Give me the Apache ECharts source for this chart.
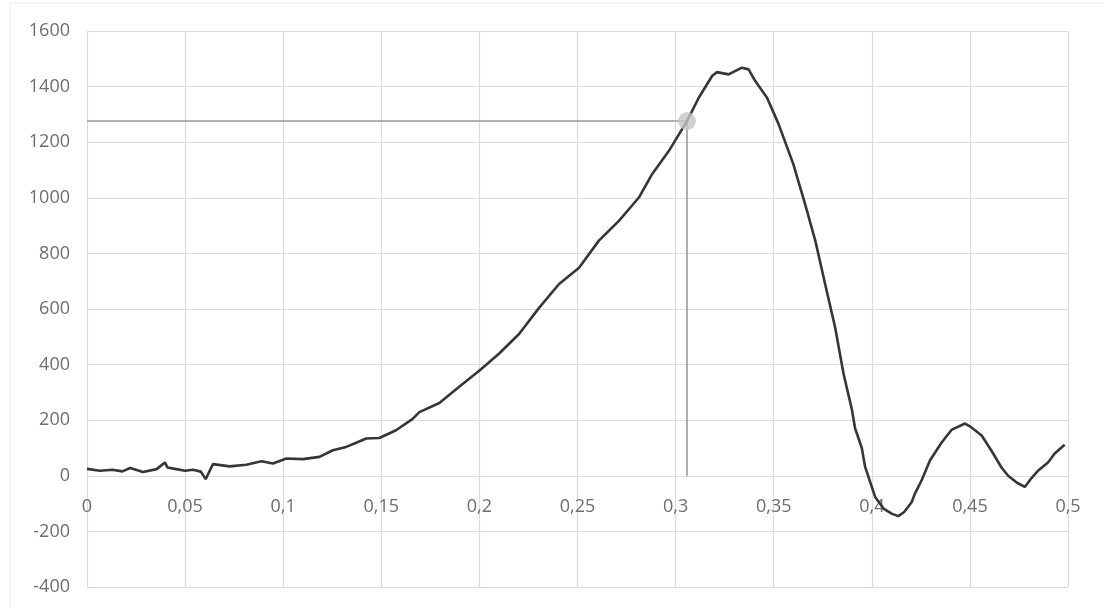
<!DOCTYPE html>
<html>
<head>
<meta charset="utf-8">
<script src="https://cdn.jsdelivr.net/npm/echarts@6/dist/echarts.min.js"></script>
<style>
  html, body { margin: 0; padding: 0; background: #ffffff; }
  #chart { width: 1104px; height: 608px; }
</style>
</head>
<body>
<div id="chart"></div>
<script>
// Curve: x (time) and y (force) values
const xValues = [0, 0.0066, 0.013, 0.018, 0.022, 0.0286, 0.0355, 0.0397, 0.041, 0.0456, 0.05, 0.054, 0.058, 0.0605, 0.062, 0.0642, 0.0727, 0.0812, 0.0889, 0.0948, 0.1016, 0.11, 0.1185, 0.1253, 0.1321, 0.1363, 0.1423, 0.149, 0.1575, 0.166, 0.1694, 0.1796, 0.1897, 0.1999, 0.2101, 0.2202, 0.2304, 0.2406, 0.2508, 0.2609, 0.2711, 0.2813, 0.288, 0.2966, 0.3058, 0.3118, 0.3186, 0.321, 0.327, 0.3338, 0.3372, 0.3406, 0.3466, 0.3525, 0.36, 0.366, 0.3712, 0.3762, 0.3813, 0.3856, 0.3898, 0.3915, 0.3949, 0.3966, 0.4017, 0.406, 0.4101, 0.4135, 0.4165, 0.4203, 0.422, 0.4254, 0.4297, 0.4356, 0.4406, 0.4475, 0.45, 0.456, 0.461, 0.4661, 0.4695, 0.474, 0.478, 0.4814, 0.485, 0.4898, 0.4932, 0.4983];
const yValues = [25, 18, 22, 16, 28, 14, 24, 48, 30, 24, 18, 22, 15, -12, 10, 42, 34, 40, 52, 44, 62, 60, 68, 92, 104, 116, 134, 136, 164, 205, 229, 262, 320, 378, 440, 510, 604, 690, 748, 846, 917, 1001, 1085, 1169, 1276, 1360, 1438, 1452, 1444, 1468, 1462, 1420, 1360, 1265, 1121, 977, 846, 690, 534, 367, 240, 170, 100, 32, -76, -118, -136, -145, -130, -95, -64, -16, 56, 120, 165, 188, 178, 145, 90, 30, 0, -25, -40, -8, 20, 48, 80, 112];

// Highlighted point with its guide lines to the axes
const markerX = 0.3058;
const markerY = 1276;

// Tick labels
const xTickLabels = ['0', '0,05', '0,1', '0,15', '0,2', '0,25', '0,3', '0,35', '0,4', '0,45', '0,5'];
const yTickLabels = ['-400', '-200', '0', '200', '400', '600', '800', '1000', '1200', '1400', '1600'];

const yMin = -400, yMax = 1600;

const curve = xValues.map((x, i) => [x, yValues[i]]);
const guide = [[0, markerY], [markerX, markerY], [markerX, 0]];

const chart = echarts.init(document.getElementById('chart'), null, { renderer: 'canvas' });
const labelFont = { color: '#6e6e6e', fontSize: 18, fontFamily: 'Open Sans' };

chart.setOption({
  animation: false,
  backgroundColor: '#ffffff',
  graphic: [{
    type: 'rect',
    shape: { x: 10, y: 3, width: 1100, height: 610 },
    style: { fill: 'none', stroke: '#ececec', lineWidth: 1 },
    silent: true
  }],
  grid: { left: 87, right: 36, top: 31, bottom: 21, containLabel: false },
  xAxis: {
    type: 'value',
    min: 0, max: 0.5, interval: 0.05,
    axisLine: { show: false, onZero: false },
    axisTick: { show: false },
    splitLine: { show: true, lineStyle: { color: '#dcdcdc', width: 1.2 } },
    axisLabel: Object.assign({
      margin: 19,
      formatter: (v) => xTickLabels[Math.round(v / 0.05)]
    }, labelFont)
  },
  yAxis: {
    type: 'value',
    min: yMin, max: yMax, interval: 200,
    axisLine: { show: false },
    axisTick: { show: false },
    splitLine: { show: true, lineStyle: { color: '#dcdcdc', width: 1.2 } },
    axisLabel: Object.assign({
      margin: 17,
      formatter: (v) => yTickLabels[Math.round((v - yMin) / 200)]
    }, labelFont)
  },
  series: [
    {
      type: 'line',
      data: guide,
      symbol: 'none',
      lineStyle: { color: '#9a9a9a', width: 1.6 },
      z: 2
    },
    {
      type: 'line',
      data: curve,
      symbol: 'none',
      smooth: false,
      lineStyle: { color: '#363636', width: 2.6 },
      z: 3
    },
    {
      type: 'scatter',
      data: [[markerX, markerY]],
      symbol: 'circle',
      symbolSize: 18,
      itemStyle: { color: '#c6c6c6' },
      z: 4
    }
  ]
});

// Place the horizontal axis (labels) on the y = 0 line, as in the reference
const zeroPx = chart.convertToPixel({ yAxisIndex: 0 }, 0);
const bottomPx = chart.convertToPixel({ yAxisIndex: 0 }, yMin);
chart.setOption({
  xAxis: { offset: -(bottomPx - zeroPx) }
});
</script>
</body>
</html>
